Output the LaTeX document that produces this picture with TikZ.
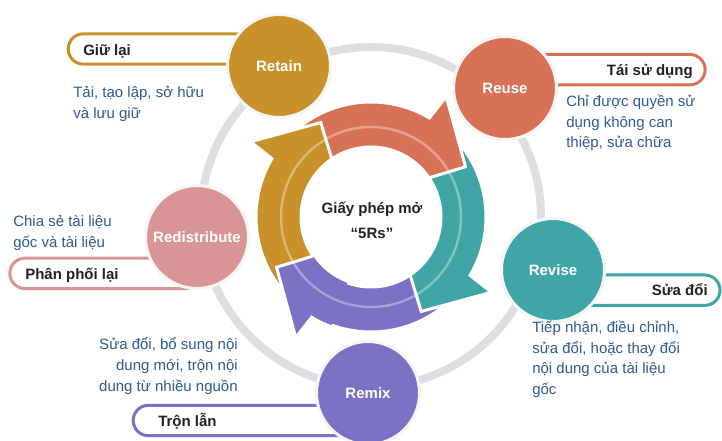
\documentclass[tikz,border=0pt]{standalone}
\usepackage{fontspec}
\setmainfont{Liberation Sans}
\usepackage{xcolor}
\usepackage{tikz}
\usetikzlibrary{positioning}

\definecolor{retaincol}{HTML}{C8912A}
\definecolor{reusecol}{HTML}{D77256}
\definecolor{revisecol}{HTML}{40A5A5}
\definecolor{remixcol}{HTML}{7B71C5}
\definecolor{redistcol}{HTML}{D99595}
\definecolor{desccol}{HTML}{2F5B8F}
\definecolor{titlecol}{HTML}{222222}
\definecolor{ringcol}{HTML}{DEDFE1}
\definecolor{rimcol}{HTML}{F5F5F5}

\begin{document}
\begin{tikzpicture}[
    every node/.style={font=\fontsize{10.67}{14.6}\selectfont},
    bubble/.style={circle, draw=rimcol, line width=0.075cm, minimum size=2.575cm, inner sep=0pt, text=white, font=\fontsize{10.67}{13}\selectfont\bfseries},
    pill/.style={rectangle, draw, fill=white, line width=0.075cm, rounded corners=0.38cm, minimum height=0.76cm, inner sep=0pt},
    pilltitle/.style={inner sep=0pt, text=titlecol, font=\fontsize{10.67}{13}\selectfont\bfseries},
    desc/.style={inner sep=0pt, text=desccol, align=left},
    hub/.style={inner sep=0pt, align=center, text=titlecol, font=\fontsize{10.67}{17.8}\selectfont\bfseries},
    arrowpart/.style={draw=white, line width=0.075cm},
    glint/.style={white, opacity=0.35, line width=0.06cm}
]

\fill[white] (0,0) rectangle (18.05,11);
\useasboundingbox (0,0) rectangle (18.05,11);

\coordinate (ctr) at (9.275, 5.575);

% ── Outer grey ring ──
\draw[ringcol, line width=0.2cm] (ctr) circle[radius=4.25];

% ════════════════════════════════════════
% INNER CYCLE: FOUR CURVED ARROWS
% ════════════════════════════════════════
\begin{scope}[shift={(ctr)}]
\filldraw[remixcol, arrowpart] (-42:2.875) arc[start angle=-42, end angle=-120.5, radius=2.875] -- (-122:3.55) -- (-152:2.675) -- (-146:1.75) arc[start angle=-146, end angle=-42, radius=1.75] -- cycle;
\filldraw[revisecol, arrowpart] (48:2.875) arc[start angle=48, end angle=-30.5, radius=2.875] -- (-32:3.55) -- (-62:2.675) -- (-56:1.75) arc[start angle=-56, end angle=48, radius=1.75] -- cycle;
\filldraw[reusecol, arrowpart] (138:2.875) arc[start angle=138, end angle=59.5, radius=2.875] -- (58:3.55) -- (28:2.675) -- (34:1.75) arc[start angle=34, end angle=138, radius=1.75] -- cycle;
\filldraw[retaincol, arrowpart] (228:2.875) arc[start angle=228, end angle=149.5, radius=2.875] -- (148:3.55) -- (118:2.675) -- (124:1.75) arc[start angle=124, end angle=228, radius=1.75] -- cycle;
% purple head again, on top of the gold tail
\fill[remixcol] (-110:2.875) arc[start angle=-110, end angle=-120.5, radius=2.875] -- (-122:3.55) -- (-152:2.675) -- (-146:1.75) arc[start angle=-146, end angle=-110, radius=1.75] -- cycle;
\draw[arrowpart] (-120.5:2.875) -- (-122:3.55) -- (-152:2.675) -- (-146:1.75);
\end{scope}

\draw[glint] (ctr) circle[radius=2.25];
\node[hub] (hub) at (9.3, 5.5) {Giấy phép mở\\“5Rs”};

% ════════════════════════════════════════
% LABEL BARS
% ════════════════════════════════════════
\node[pill, draw=retaincol, minimum width=5.17cm]  (retainpill) at (4.29, 9.775) {};
\node[pill, draw=reusecol, minimum width=4.875cm]  (reusepill)  at (15.19, 9.258) {};
\node[pill, draw=redistcol, minimum width=4.755cm] (redistpill) at (2.6225, 4.165) {};
\node[pill, draw=revisecol, minimum width=4.125cm] (revisepill) at (15.9375, 3.745) {};
\node[pill, draw=remixcol, minimum width=5.795cm]  (remixpill)  at (6.2275, 0.4875) {};

\node[pilltitle, anchor=base west] (retaintitle) at (2.075, 9.607) {Giữ lại};
\node[pilltitle, anchor=base east] (reusetitle)  at (17.325, 9.1075) {Tái sử dụng};
\node[pilltitle, anchor=base west] (redisttitle) at (0.625, 4.0175) {Phân phối lại};
\node[pilltitle, anchor=base east] (revisetitle) at (17.7, 3.6) {Sửa đổi};
\node[pilltitle, anchor=base west] (remixtitle)  at (3.95, 0.35) {Trộn lẫn};

% ════════════════════════════════════════
% THE FIVE Rs
% ════════════════════════════════════════
\node[bubble, fill=retaincol] (retain) at (6.975, 9.35)   {Retain};
\node[bubble, fill=reusecol]  (reuse)  at (12.625, 8.8)   {Reuse};
\node[bubble, fill=revisecol] (revise) at (13.825, 4.25)  {Revise};
\node[bubble, fill=remixcol]  (remix)  at (9.2, 1.175)    {Remix};
\node[bubble, fill=redistcol] (redist) at (4.925, 5.075)  {Redistribute};

% ── Descriptions (anchored at the last line) ──
\node[desc, anchor=base west] (retaindesc) at (1.825, 8.0375) {Tải, tạo lập, sở hữu\\và lưu giữ};
\node[desc, anchor=base west] (reusedesc)  at (14.15, 7.3) {Chỉ được quyền sử\\dụng không can\\thiệp, sửa chữa};
\node[desc, anchor=base west] (redistdesc) at (0.325, 4.8125) {Chia sẻ tài liệu\\gốc và tài liệu};
\node[desc, anchor=base west] (revisedesc) at (13.3, 1.1375) {Tiếp nhận, điều chỉnh,\\sửa đổi, hoặc thay đổi\\nội dung của tài liệu\\gốc};
\node[desc, align=right, anchor=base east] (remixdesc) at (5.95, 1.225) {Sửa đổi, bổ sung nội\\dung mới, trộn nội\\dung từ nhiều nguồn};

\end{tikzpicture}
\end{document}
